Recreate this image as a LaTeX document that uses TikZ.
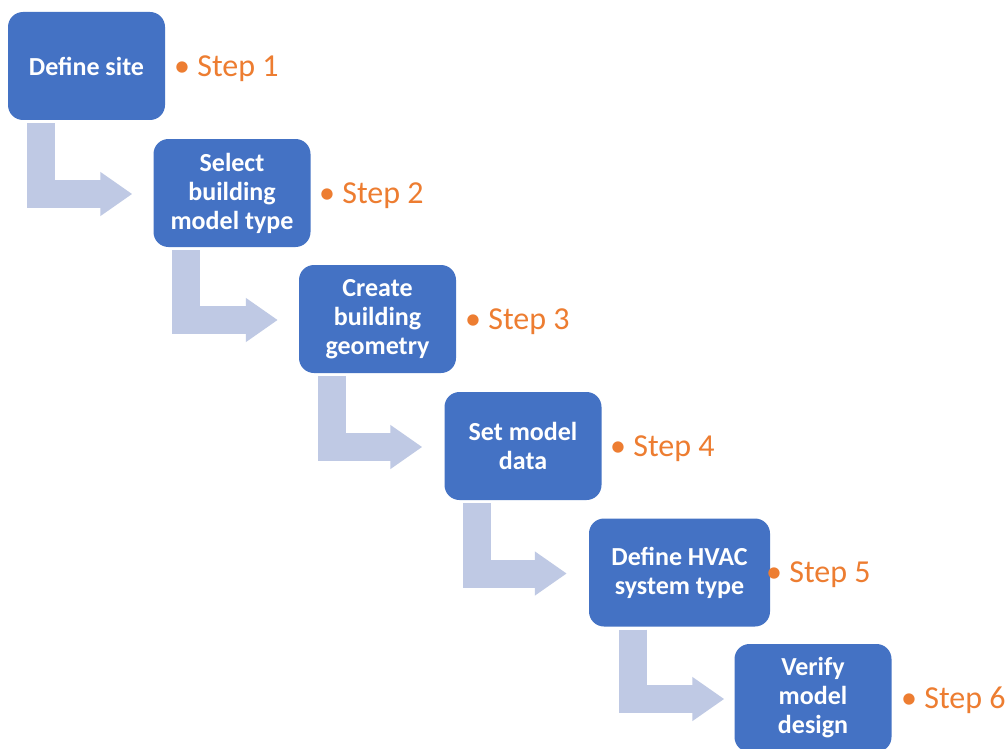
\documentclass[tikz,border=0pt]{standalone}
\usepackage{fontspec}
\setmainfont{Carlito}
\usetikzlibrary{arrows.meta, calc}
\definecolor{boxblue}{RGB}{68,114,196}
\definecolor{arrowblue}{RGB}{191,201,228}
\definecolor{steporange}{RGB}{237,125,49}

\begin{document}
\begin{tikzpicture}[x=1pt, y=-1pt,
    stepbox/.style={fill=boxblue, rounded corners=15pt, minimum width=157pt, minimum height=108pt,
        text=white, font=\fontsize{26}{29}\selectfont\bfseries, align=center, inner sep=0pt},
    steplabel/.style={text=steporange, font=\fontsize{32}{36}\selectfont, anchor=base west, inner sep=0pt},
    bentarrow/.style={draw=arrowblue, line width=28pt, line join=miter,
        -{Triangle[length=32pt, width=42pt]}}]
    \fill[white] (0,0) rectangle (1006,749);
    \useasboundingbox (0,0) rectangle (1006,749);

    % process boxes
    \node[stepbox] (b1) at (86.5,66) {Define site};
    \node[stepbox] (b2) at (232,193) {Select\\building\\model type};
    \node[stepbox] (b3) at (377.5,319) {Create\\building\\geometry};
    \node[stepbox] (b4) at (523,446) {Set model\\data};
    \node[stepbox, minimum width=181pt] (b5) at (679.5,572.5) {Define HVAC\\system type};
    \node[stepbox] (b6) at (813,698) {Verify\\model\\design};

    % step labels
    \node[steplabel] (s1) at (174,77) {\textbullet\ Step 1};
    \node[steplabel] (s2) at (319,203) {\textbullet\ Step 2};
    \node[steplabel] (s3) at (465,329) {\textbullet\ Step 3};
    \node[steplabel] (s4) at (610,456) {\textbullet\ Step 4};
    \node[steplabel] (s5) at (766,582) {\textbullet\ Step 5};
    \node[steplabel] (s6) at (901,708) {\textbullet\ Step 6};

    % bent arrows between the boxes
    \foreach \a/\b/\dx/\gap in {1/2/33/21, 2/3/33/21, 3/4/33/22, 4/5/33/22, 5/6/44/10}
        \draw[bentarrow] ($(b\a.south west)+(\dx,3)$) |- ($(b\b.west)+(-\gap,1)$);
\end{tikzpicture}
\end{document}
